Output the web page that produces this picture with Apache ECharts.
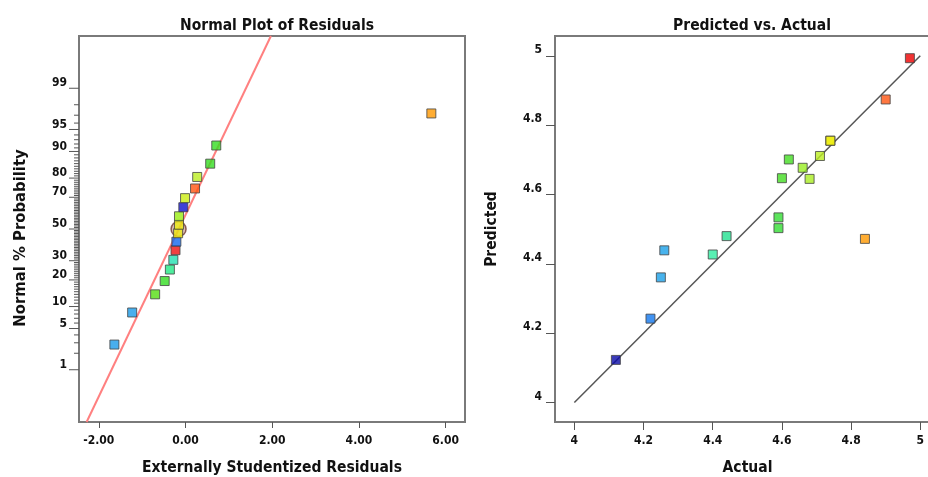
<!DOCTYPE html>
<html>
<head>
<meta charset="utf-8">
<script src="https://cdn.jsdelivr.net/npm/echarts@6/dist/echarts.min.js"></script>
<style>
html,body{margin:0;padding:0;background:#fff;}
#chart{width:928px;height:477px;}
</style>
</head>
<body>
<div id="chart"></div>
<script>
// ---------- DATA ----------
// Left: Normal plot of residuals
const residuals = [-1.64, -1.23, -0.70, -0.48, -0.36, -0.28, -0.23, -0.21, -0.17, -0.15, -0.15, -0.05, -0.01, 0.22, 0.27, 0.57, 0.71, 5.67];
const normalZ   = [-1.91, -1.38, -1.08, -0.86, -0.67, -0.51, -0.35, -0.21, -0.07, 0.07, 0.21, 0.36, 0.51, 0.67, 0.86, 1.08, 1.38, 1.91];
const residualColors = ['#1a9be8','#1a9be8','#55dd11','#33dd22','#22e884','#22e0b0','#ee1111','#1166ee','#eeee11','#eeee11','#99ee11','#1010d0','#ccee11','#ff5511','#bbee22','#33dd22','#33dd22','#ff9900'];
const medianMarkX = [-0.16];
const medianMarkZ = [0];
const refLineX = [-2.28, 1.97];
const refLineZ = [-3.19, 3.19];
const probMajorTicks = [1, 5, 10, 20, 30, 50, 70, 80, 90, 95, 99];
const probMinorTicks = [2, 3, 4, 6, 7, 8, 9,
  11, 12, 13, 14, 15, 16, 17, 18, 19,
  21, 22, 23, 24, 25, 26, 27, 28, 29,
  31, 32, 33, 34, 35, 36, 37, 38, 39, 40, 41, 42, 43, 44, 45, 46, 47, 48, 49,
  51, 52, 53, 54, 55, 56, 57, 58, 59, 60, 61, 62, 63, 64, 65, 66, 67, 68, 69,
  71, 72, 73, 74, 75, 76, 77, 78, 79,
  81, 82, 83, 84, 85, 86, 87, 88, 89,
  91, 92, 93, 94, 96, 97, 98];

// Right: Predicted vs Actual
const actual    = [4.12, 4.22, 4.25, 4.26, 4.40, 4.44, 4.59, 4.59, 4.60, 4.62, 4.66, 4.68, 4.71, 4.74, 4.74, 4.84, 4.90, 4.97];
const predicted = [4.123, 4.242, 4.361, 4.439, 4.427, 4.480, 4.534, 4.503, 4.647, 4.701, 4.677, 4.645, 4.711, 4.755, 4.755, 4.472, 4.874, 4.993];
const actualColors = ['#0a0aa8','#1177ee','#1aa0e8','#1aa0e8','#30eca0','#22e090','#33dd33','#33dd33','#44dd22','#44dd22','#99ee22','#aaee22','#bbee22','#eeee11','#eeee11','#ff9900','#ff5511','#ee0000'];
const diagX = [4, 5];
const diagY = [4, 5];

// ---------- HELPERS ----------
function invNorm(p) {
  const a = [-3.969683028665376e+01, 2.209460984245205e+02, -2.759285104469687e+02, 1.383577518672690e+02, -3.066479806614716e+01, 2.506628277459239e+00];
  const b = [-5.447609879822406e+01, 1.615858368580409e+02, -1.556989798598866e+02, 6.680131188771972e+01, -1.328068155288572e+01];
  const c = [-7.784894002430293e-03, -3.223964580411365e-01, -2.400758277161838e+00, -2.549732539343734e+00, 4.374664141464968e+00, 2.938163982698783e+00];
  const d = [7.784695709041462e-03, 3.224671290700398e-01, 2.445134137142996e+00, 3.754408661907416e+00];
  const pl = 0.02425, ph = 1 - pl;
  let q, r;
  if (p < pl) {
    q = Math.sqrt(-2 * Math.log(p));
    return (((((c[0]*q+c[1])*q+c[2])*q+c[3])*q+c[4])*q+c[5]) / ((((d[0]*q+d[1])*q+d[2])*q+d[3])*q+1);
  } else if (p <= ph) {
    q = p - 0.5; r = q * q;
    return (((((a[0]*r+a[1])*r+a[2])*r+a[3])*r+a[4])*r+a[5])*q / (((((b[0]*r+b[1])*r+b[2])*r+b[3])*r+b[4])*r+1);
  } else {
    q = Math.sqrt(-2 * Math.log(1 - p));
    return -(((((c[0]*q+c[1])*q+c[2])*q+c[3])*q+c[4])*q+c[5]) / ((((d[0]*q+d[1])*q+d[2])*q+d[3])*q+1);
  }
}

const FONT = "'DejaVu Sans Condensed', 'Liberation Sans Narrow', sans-serif";
const TXT = '#111';
const FRAME = '#7a7a7a';
const NAME_SIZE = 15.5;
const LX_MIN = -2.456, LX_MAX = 6.446, LZ_MIN = -3.19, LZ_MAX = 3.19;

const probTickData = probMajorTicks.map(p => [p, 1]).concat(probMinorTicks.map(p => [p, 0]));

const chart = echarts.init(document.getElementById('chart'), null, {renderer: 'canvas'});

const option = {
  backgroundColor: '#fff',
  animation: false,
  title: [
    {text: 'Normal Plot of Residuals', left: 272, top: 13, textAlign: 'center',
     textStyle: {fontFamily: FONT, fontWeight: 'bold', fontSize: NAME_SIZE, color: TXT}},
    {text: 'Predicted vs. Actual', left: 747, top: 13, textAlign: 'center',
     textStyle: {fontFamily: FONT, fontWeight: 'bold', fontSize: NAME_SIZE, color: TXT}}
  ],
  grid: [
    {left: 79, top: 36, width: 386, height: 386, show: true, borderColor: FRAME, borderWidth: 2, backgroundColor: 'transparent', outerBoundsMode: 'none', containLabel: false},
    {left: 555, top: 36, width: 385, height: 386, show: true, borderColor: FRAME, borderWidth: 2, backgroundColor: 'transparent', outerBoundsMode: 'none', containLabel: false}
  ],
  xAxis: [
    {gridIndex: 0, type: 'value', min: LX_MIN, max: LX_MAX, splitNumber: 5,
     name: 'Externally Studentized Residuals', nameLocation: 'middle', nameGap: 38,
     nameTextStyle: {fontFamily: FONT, fontWeight: 'bold', fontSize: NAME_SIZE, color: TXT},
     axisLine: {show: true, onZero: false, lineStyle: {color: FRAME, width: 2}},
     axisTick: {show: true, inside: false, length: 6, lineStyle: {color: '#555', width: 1}},
     axisLabel: {show: true, margin: 13, showMinLabel: false, showMaxLabel: false,
       formatter: v => v.toFixed(2), fontFamily: FONT, fontWeight: 'bold', fontSize: 12, color: TXT},
     splitLine: {show: false}},
    {gridIndex: 1, type: 'value', min: 3.944, max: 5.057, splitNumber: 5,
     name: 'Actual', nameLocation: 'middle', nameGap: 38,
     nameTextStyle: {fontFamily: FONT, fontWeight: 'bold', fontSize: NAME_SIZE, color: TXT},
     axisLine: {show: true, onZero: false, lineStyle: {color: FRAME, width: 2}},
     axisTick: {show: true, inside: false, length: 8, lineStyle: {color: '#555', width: 1}},
     axisLabel: {show: true, margin: 13, showMinLabel: false, showMaxLabel: false,
       formatter: v => String(+v.toFixed(1)), fontFamily: FONT, fontWeight: 'bold', fontSize: 12, color: TXT},
     splitLine: {show: false}},
  ],
  yAxis: [
    {gridIndex: 0, type: 'value', min: LZ_MIN, max: LZ_MAX,
     name: 'Normal % Probability', nameLocation: 'middle', nameGap: 50,
     nameTextStyle: {fontFamily: FONT, fontWeight: 'bold', fontSize: 16.5, color: TXT, padding: [0, 18, 0, 0]},
     axisLine: {show: false}, axisTick: {show: false}, axisLabel: {show: false}, splitLine: {show: false}},
    {gridIndex: 1, type: 'value', min: 3.944, max: 5.057, splitNumber: 5,
     name: 'Predicted', nameLocation: 'middle', nameGap: 55,
     nameTextStyle: {fontFamily: FONT, fontWeight: 'bold', fontSize: NAME_SIZE, color: TXT},
     axisLine: {show: true, onZero: false, lineStyle: {color: FRAME, width: 2}},
     axisTick: {show: true, inside: false, length: 9, lineStyle: {color: '#555', width: 1}},
     axisLabel: {show: true, margin: 13, showMinLabel: false, showMaxLabel: false, verticalAlign: 'bottom',
       formatter: v => String(+v.toFixed(1)), fontFamily: FONT, fontWeight: 'bold', fontSize: 12, color: TXT},
     splitLine: {show: false}}
  ],
  series: [
    // probability axis ticks & labels
    {type: 'custom', xAxisIndex: 0, yAxisIndex: 0, silent: true, clip: false, z: 1,
     data: probTickData,
     encode: {x: -1, y: -1},
     renderItem: function (params, api) {
       const p = api.value(0), major = api.value(1);
       const pt = api.coord([LX_MIN, invNorm(p / 100)]);
       const len = major ? 10 : 5;
       const children = [{type: 'line', shape: {x1: pt[0] - len, y1: pt[1], x2: pt[0], y2: pt[1]},
         style: {stroke: '#555', lineWidth: 1}}];
       if (major) {
         children.push({type: 'text', style: {text: String(p), x: pt[0] - 12, y: pt[1] + 1,
           align: 'right', verticalAlign: 'bottom', font: 'bold 12px ' + FONT, fill: TXT}});
       }
       return {type: 'group', children: children};
     }},
    // reference line
    {type: 'line', xAxisIndex: 0, yAxisIndex: 0, data: refLineX.map((x, i) => [x, refLineZ[i]]),
     showSymbol: false, symbol: 'none', silent: true, clip: true, z: 2,
     lineStyle: {color: '#ff8080', width: 2}},
    // median circle
    {type: 'scatter', xAxisIndex: 0, yAxisIndex: 0, data: medianMarkX.map((x, i) => [x, medianMarkZ[i]]),
     symbol: 'circle', symbolSize: 15, silent: true, z: 3,
     itemStyle: {color: 'rgba(150,70,50,0.45)', borderColor: 'rgba(90,30,20,0.85)', borderWidth: 1.5}},
    // residual points
    {type: 'scatter', xAxisIndex: 0, yAxisIndex: 0, z: 4,
     data: residuals.map((x, i) => ({value: [x, normalZ[i]], itemStyle: {color: residualColors[i]}})),
     symbol: 'rect', symbolSize: 9, itemStyle: {borderColor: '#444', borderWidth: 1}},
    // diagonal
    {type: 'line', xAxisIndex: 1, yAxisIndex: 1, data: diagX.map((x, i) => [x, diagY[i]]),
     showSymbol: false, symbol: 'none', silent: true, z: 2,
     lineStyle: {color: '#555', width: 1.5}},
    // predicted vs actual points
    {type: 'scatter', xAxisIndex: 1, yAxisIndex: 1, z: 4,
     data: actual.map((x, i) => ({value: [x, predicted[i]], itemStyle: {color: actualColors[i]}})),
     symbol: 'rect', symbolSize: 9, itemStyle: {borderColor: '#444', borderWidth: 1}}
  ]
};
chart.setOption(option);
</script>
</body>
</html>
